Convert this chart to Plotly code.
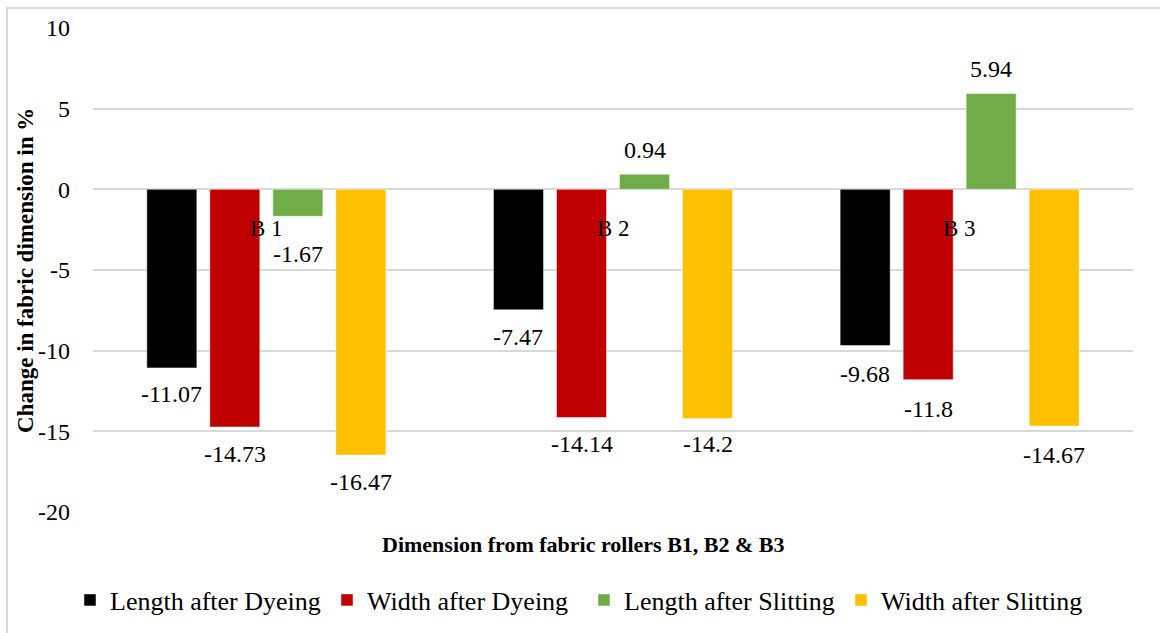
import plotly.graph_objects as go

# Rollers and measured change in fabric dimension (%)
rollers = ["B 1", "B 2", "B 3"]
series_names = [
    "Length after Dyeing",
    "Width after Dyeing",
    "Length after Slitting",
    "Width after Slitting",
]
length_after_dyeing = [-11.07, -7.47, -9.68]
width_after_dyeing = [-14.73, -14.14, -11.8]
length_after_slitting = [-1.67, 0.94, 5.94]
width_after_slitting = [-16.47, -14.2, -14.67]
y_ticks = [10, 5, 0, -5, -10, -15, -20]

series_values = [
    length_after_dyeing,
    width_after_dyeing,
    length_after_slitting,
    width_after_slitting,
]
colors = ["#000000", "#C00000", "#70AD47", "#FFC000"]
# pixel distance of each value label from its bar end (per roller, per series)
label_gap = [
    [26, 27, 38, 27],
    [27, 27, 24, 26],
    [28, 29, 25, 29],
]

FONT = "Liberation Serif, Times New Roman, serif"
BARGAP = 0.273
BARGROUPGAP = 0.206
slot = (1 - BARGAP) / len(series_values)

x_pos = list(range(len(rollers)))

fig = go.Figure()
for name, vals, col in zip(series_names, series_values, colors):
    fig.add_trace(
        go.Bar(
            x=x_pos,
            y=vals,
            name=name,
            marker=dict(color=col, line=dict(color="rgba(255,255,255,0.6)", width=0.8)),
        )
    )

annotations = []
# value labels at the outer end of each bar
for k, vals in enumerate(series_values):
    for i, v in enumerate(vals):
        gap = label_gap[i][k]
        annotations.append(
            dict(
                x=i + (k - (len(series_values) - 1) / 2) * slot,
                y=v,
                xref="x",
                yref="y",
                text=f"{v:g}",
                showarrow=False,
                yanchor="middle",
                yshift=gap if v > 0 else -gap,
                font=dict(family=FONT, size=24, color="#000000"),
            )
        )

# roller names sit next to the zero line
for i, r in enumerate(rollers):
    annotations.append(
        dict(
            x=i,
            y=0,
            xref="x",
            yref="y",
            text=r,
            showarrow=False,
            yanchor="middle",
            yshift=-39,
            font=dict(family=FONT, size=23, color="#000000"),
        )
    )

# axis titles
annotations.append(
    dict(
        x=0.472,
        y=-0.068,
        xref="paper",
        yref="paper",
        text="<b>Dimension from fabric rollers B1, B2 &amp; B3</b>",
        showarrow=False,
        yanchor="middle",
        font=dict(family=FONT, size=22, color="#000000"),
    )
)
annotations.append(
    dict(
        x=-0.0644,
        y=0.498,
        xref="paper",
        yref="paper",
        text="<b>Change in fabric dimension in %</b>",
        textangle=-90,
        showarrow=False,
        xanchor="center",
        yanchor="middle",
        font=dict(family=FONT, size=23, color="#000000"),
    )
)

fig.update_layout(
    width=1160,
    height=633,
    margin=dict(l=93, r=27, t=28, b=121, autoexpand=False),
    paper_bgcolor="white",
    plot_bgcolor="white",
    barmode="group",
    bargap=BARGAP,
    bargroupgap=BARGROUPGAP,
    showlegend=True,
    legend=dict(
        orientation="h",
        x=(70 - 93) / 1040,
        xanchor="left",
        y=(512 - 600) / 484,
        yanchor="middle",
        font=dict(family=FONT, size=26, color="#000000"),
        entrywidth=212,
        entrywidthmode="pixels",
        itemwidth=30,
        traceorder="normal",
    ),
    annotations=annotations,
    shapes=[
        dict(
            type="rect",
            xref="paper",
            yref="paper",
            x0=-86 / 1040,
            x1=1.2,
            y0=-1.0,
            y1=(512 - 8) / 484,
            line=dict(color="#d9d9d9", width=2),
            fillcolor="rgba(0,0,0,0)",
            layer="below",
        )
    ],
)

fig.update_xaxes(
    range=[-0.5, len(rollers) - 0.5],
    showticklabels=False,
    showgrid=False,
    zeroline=False,
    showline=False,
    ticks="",
)
fig.update_yaxes(
    range=[-20, 10],
    tickvals=y_ticks,
    ticktext=[str(t) for t in y_ticks],
    showgrid=True,
    gridcolor="#d9d9d9",
    gridwidth=2,
    zeroline=True,
    zerolinecolor="#d9d9d9",
    zerolinewidth=2,
    showline=False,
    ticks="",
    ticklabelstandoff=22,
    tickfont=dict(family=FONT, size=24, color="#000000"),
)

fig.write_html("out.html")
